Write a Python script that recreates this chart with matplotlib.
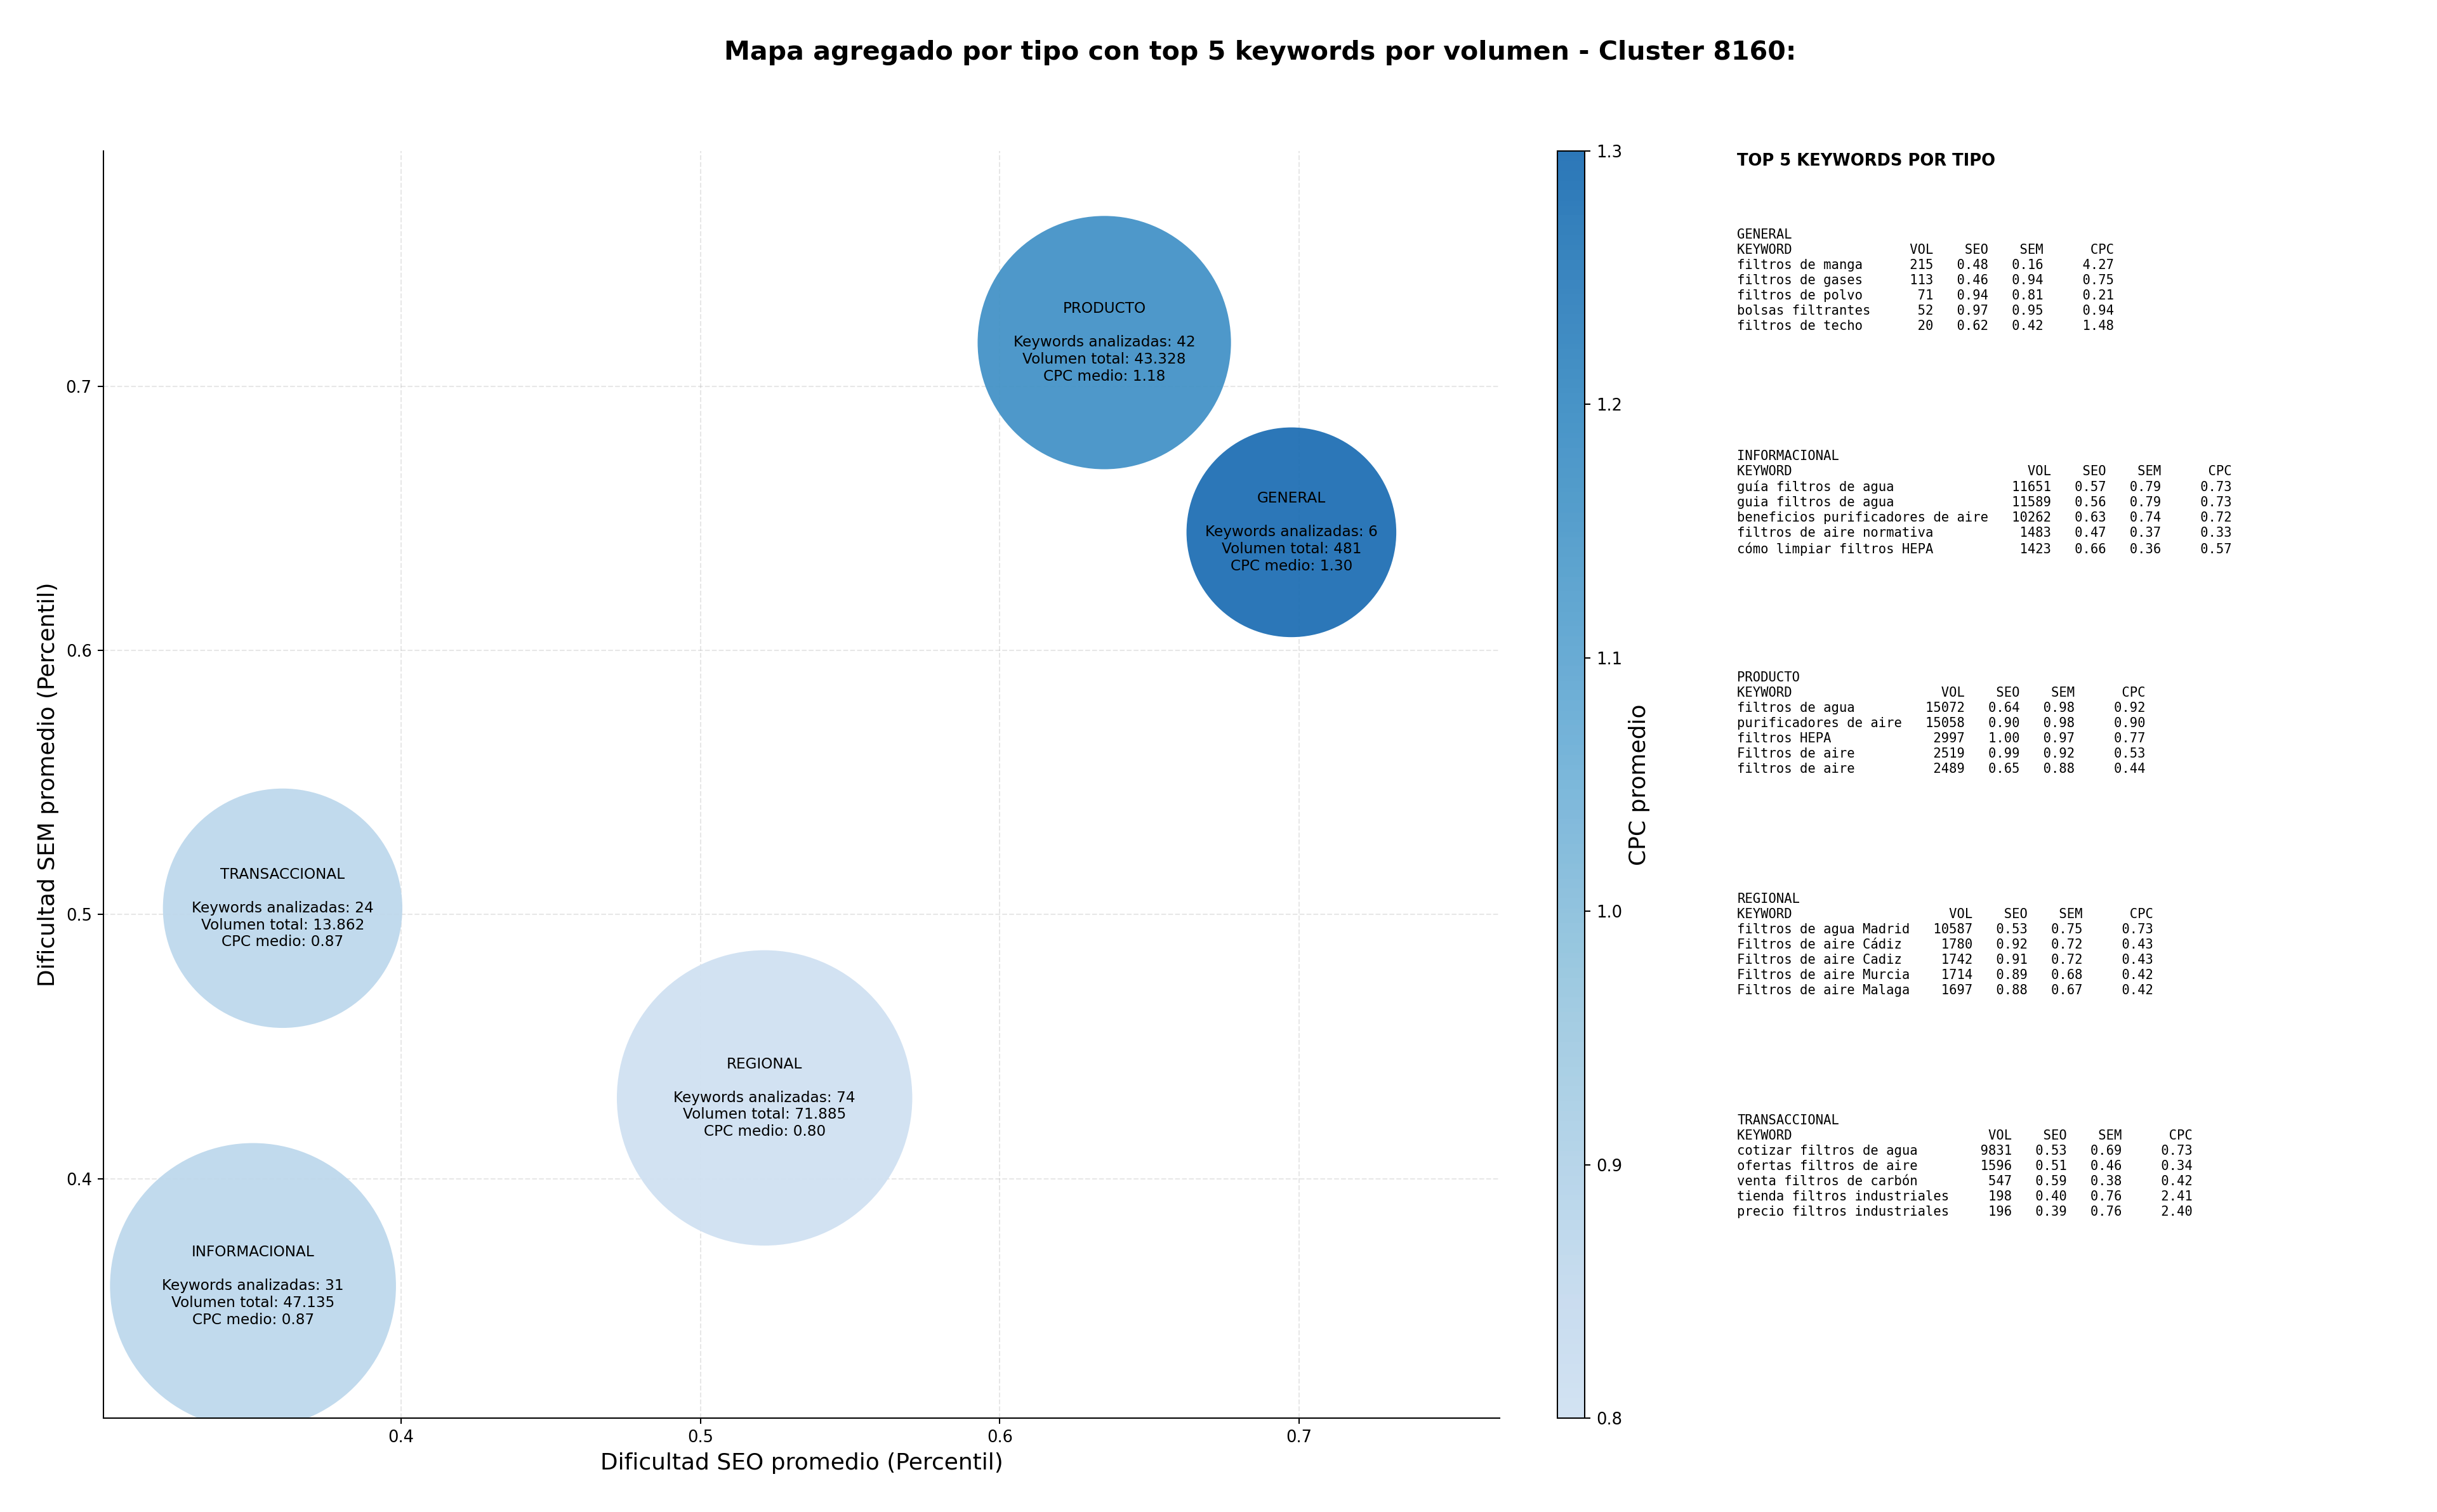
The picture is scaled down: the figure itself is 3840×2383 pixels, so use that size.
import matplotlib
matplotlib.use('Agg')
import matplotlib.pyplot as plt
import numpy as np
from matplotlib.colors import LinearSegmentedColormap, Normalize

# aggregated values per type
tipos = ['GENERAL', 'INFORMACIONAL', 'PRODUCTO', 'REGIONAL', 'TRANSACCIONAL']
seo_medio = [0.6974, 0.3505, 0.6349, 0.5214, 0.3604]
sem_medio = [0.6447, 0.3594, 0.7165, 0.4306, 0.5024]
n_keywords = [6, 31, 42, 74, 24]
volumen_total = [481, 47135, 43328, 71885, 13862]
cpc_medio = [1.30, 0.87, 1.18, 0.80, 0.87]
bubble_size = [16550, 30750, 24140, 32820, 21560]

# top 5 keywords per type: (keyword, vol, seo, sem, cpc)
top_general = [
    ('filtros de manga', 215, 0.48, 0.16, 4.27),
    ('filtros de gases', 113, 0.46, 0.94, 0.75),
    ('filtros de polvo', 71, 0.94, 0.81, 0.21),
    ('bolsas filtrantes', 52, 0.97, 0.95, 0.94),
    ('filtros de techo', 20, 0.62, 0.42, 1.48),
]
top_informacional = [
    ('guía filtros de agua', 11651, 0.57, 0.79, 0.73),
    ('guia filtros de agua', 11589, 0.56, 0.79, 0.73),
    ('beneficios purificadores de aire', 10262, 0.63, 0.74, 0.72),
    ('filtros de aire normativa', 1483, 0.47, 0.37, 0.33),
    ('cómo limpiar filtros HEPA', 1423, 0.66, 0.36, 0.57),
]
top_producto = [
    ('filtros de agua', 15072, 0.64, 0.98, 0.92),
    ('purificadores de aire', 15058, 0.90, 0.98, 0.90),
    ('filtros HEPA', 2997, 1.00, 0.97, 0.77),
    ('Filtros de aire', 2519, 0.99, 0.92, 0.53),
    ('filtros de aire', 2489, 0.65, 0.88, 0.44),
]
top_regional = [
    ('filtros de agua Madrid', 10587, 0.53, 0.75, 0.73),
    ('Filtros de aire Cádiz', 1780, 0.92, 0.72, 0.43),
    ('Filtros de aire Cadiz', 1742, 0.91, 0.72, 0.43),
    ('Filtros de aire Murcia', 1714, 0.89, 0.68, 0.42),
    ('Filtros de aire Malaga', 1697, 0.88, 0.67, 0.42),
]
top_transaccional = [
    ('cotizar filtros de agua', 9831, 0.53, 0.69, 0.73),
    ('ofertas filtros de aire', 1596, 0.51, 0.46, 0.34),
    ('venta filtros de carbón', 547, 0.59, 0.38, 0.42),
    ('tienda filtros industriales', 198, 0.40, 0.76, 2.41),
    ('precio filtros industriales', 196, 0.39, 0.76, 2.40),
]
tops = [top_general, top_informacional, top_producto, top_regional, top_transaccional]

DPI = 185
cmap = LinearSegmentedColormap.from_list('blues_cut', plt.cm.Blues(np.linspace(0.2, 0.75, 256)))
norm = Normalize(vmin=min(cpc_medio), vmax=max(cpc_medio))

fig = plt.figure(figsize=(3840 / DPI, 2383 / DPI), dpi=DPI)
ax = fig.add_axes([0.0424, 0.0621, 0.5730, 0.8380])
cax = fig.add_axes([0.6390, 0.0621, 0.0112, 0.8380])

sc = ax.scatter(seo_medio, sem_medio, s=bubble_size, c=cpc_medio, cmap=cmap, norm=norm,
                edgecolors='none', alpha=0.95, zorder=2)

for i, t in enumerate(tipos):
    vol_txt = f"{volumen_total[i]:,}".replace(',', '.')
    txt = f"{t}\n\nKeywords analizadas: {n_keywords[i]}\nVolumen total: {vol_txt}\nCPC medio: {cpc_medio[i]:.2f}"
    ax.text(seo_medio[i], sem_medio[i], txt, ha='center', va='center', fontsize=9, zorder=3)

ax.set_xlim(0.3005, 0.767)
ax.set_ylim(0.3094, 0.789)
ax.set_xticks([0.4, 0.5, 0.6, 0.7])
ax.set_yticks([0.4, 0.5, 0.6, 0.7])
ax.grid(True, linestyle='--', alpha=0.3, zorder=0)
ax.spines['top'].set_visible(False)
ax.spines['right'].set_visible(False)
ax.set_xlabel('Dificultad SEO promedio (Percentil)', fontsize=14)
ax.set_ylabel('Dificultad SEM promedio (Percentil)', fontsize=14)

cb = fig.colorbar(sc, cax=cax)
cb.set_label('CPC promedio', fontsize=14)

fig.text(0.517, 0.965, 'Mapa agregado por tipo con top 5 keywords por volumen - Cluster 8160:',
         ha='center', va='center', fontsize=16, fontweight='bold')

# keyword tables
fig.text(0.7128, 0.899, 'TOP 5 KEYWORDS POR TIPO', ha='left', va='top', fontsize=10, fontweight='bold')
for i, t in enumerate(tipos):
    rows = tops[i]
    w = max(len(r[0]) for r in rows)
    lines = [t, f"{'KEYWORD':<{w}}{'VOL':>8}{'SEO':>7}{'SEM':>7}{'CPC':>9}"]
    for kw, vol, seo, sem, cpc in rows:
        lines.append(f"{kw:<{w}}{vol:>8}{seo:>7.2f}{sem:>7.2f}{cpc:>9.2f}")
    fig.text(0.7128, 0.849 - i * 0.1465, '\n'.join(lines), ha='left', va='top',
             fontsize=8, family='DejaVu Sans Mono', linespacing=1.25)

fig.savefig('out.png', dpi=DPI)
